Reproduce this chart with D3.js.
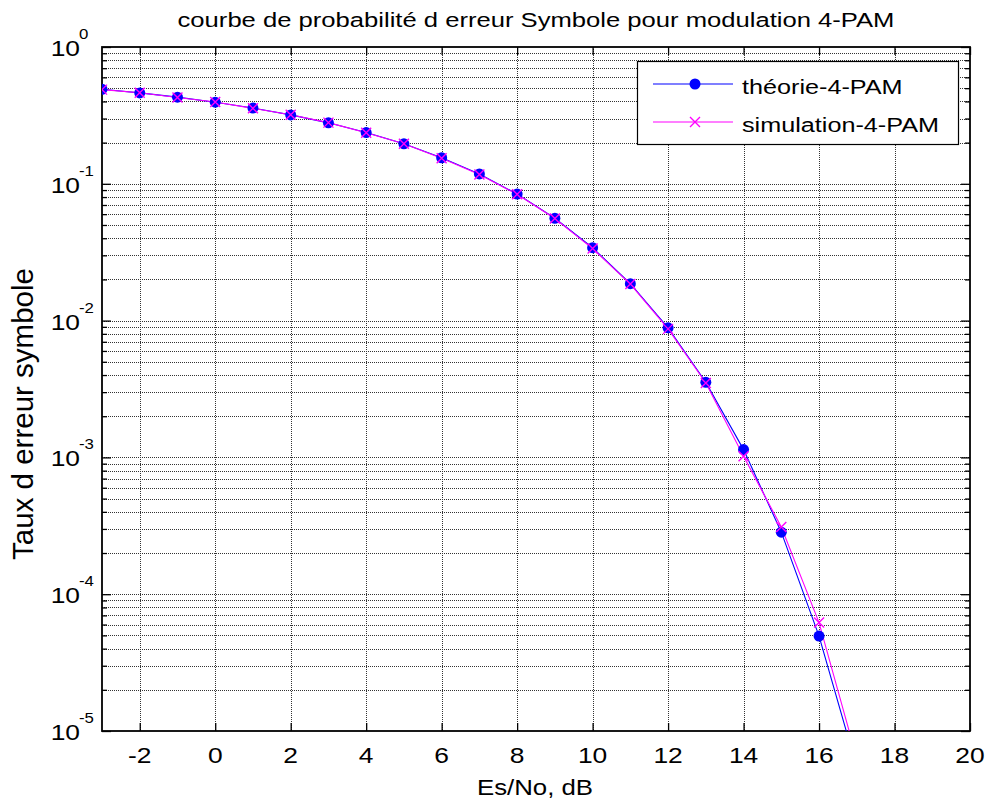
<!DOCTYPE html>
<html><head><meta charset="utf-8">
<script src="https://cdn.jsdelivr.net/npm/d3@7"></script>
<style>html,body{margin:0;padding:0;background:#fff;} svg{display:block;font-family:"Liberation Sans",Arial,sans-serif;}</style>
</head><body>
<script>
const esno = [-3,-2,-1,0,1,2,3,4,5,6,7,8,9,10,11,12,13,14,15,16,17];
const theory = [0.491,0.462,0.430,0.395,0.358,0.319,0.279,0.237,0.196,0.155,0.118,0.0841,0.0560,0.0341,0.0186,0.00885,0.00354,0.00114,0.000284,0.0000494,0.0000054];
const simulation = [0.488,0.463,0.427,0.396,0.356,0.320,0.280,0.236,0.196,0.154,0.117,0.0838,0.0557,0.0336,0.0185,0.0087,0.0035,0.00102,0.000310,0.0000620,0.0000063];
const xTicks = [-2,0,2,4,6,8,10,12,14,16,18,20];
const yExps = [0,-1,-2,-3,-4,-5];
const title = "courbe de probabilité d erreur Symbole pour modulation 4-PAM";
const xLabel = "Es/No, dB";
const yLabel = "Taux d erreur symbole";
const seriesNames = ["théorie-4-PAM","simulation-4-PAM"];
const colors = ["#0000ff","#ff00ff"];

const W=989,H=805;
const L=102,R=970,T=47,B=731;
const SX=1.2;
const svg=d3.select("body").append("svg").attr("width",W).attr("height",H);
const x=d3.scaleLinear().domain([-3,20]).range([L,R]);
const y=d3.scaleLog().domain([1e-5,1]).range([B,T]);

const yMinor=[];
for(let e=-5;e<0;e++){for(let m=2;m<=9;m++){yMinor.push(m*Math.pow(10,e));}}
const yMajor=yExps.map(e=>Math.pow(10,e));

const grid=svg.append("g");
grid.selectAll("line.gx").data(xTicks.filter(v=>v<20)).enter().append("line")
 .attr("x1",d=>Math.round(x(d))+0.5).attr("x2",d=>Math.round(x(d))+0.5).attr("y1",T).attr("y2",B)
 .attr("stroke","#333").attr("stroke-dasharray","1,1").attr("stroke-width",1);
grid.selectAll("line.gy").data(yMinor.concat(yMajor.filter(v=>v>1e-5&&v<1))).enter().append("line")
 .attr("x1",L).attr("x2",R).attr("y1",d=>Math.round(y(d))+0.5).attr("y2",d=>Math.round(y(d))+0.5)
 .attr("stroke","#333").attr("stroke-dasharray","1,1").attr("stroke-width",1);

const ax=svg.append("g");
ax.append("g").attr("transform",`translate(0,${B})`).call(d3.axisBottom(x).tickValues(xTicks).tickSize(-8).tickFormat("")).call(g=>g.select(".domain").remove());
ax.append("g").attr("transform",`translate(0,${T})`).call(d3.axisTop(x).tickValues(xTicks).tickSize(-8).tickFormat("")).call(g=>g.select(".domain").remove());
ax.append("g").attr("transform",`translate(${L},0)`).call(d3.axisLeft(y).tickValues(yMajor).tickSize(-9).tickFormat("")).call(g=>g.select(".domain").remove());
ax.append("g").attr("transform",`translate(${L},0)`).call(d3.axisLeft(y).tickValues(yMinor).tickSize(-5).tickFormat("")).call(g=>g.select(".domain").remove());
ax.append("g").attr("transform",`translate(${R},0)`).call(d3.axisRight(y).tickValues(yMajor).tickSize(-9).tickFormat("")).call(g=>g.select(".domain").remove());
ax.append("g").attr("transform",`translate(${R},0)`).call(d3.axisRight(y).tickValues(yMinor).tickSize(-5).tickFormat("")).call(g=>g.select(".domain").remove());
ax.selectAll(".tick line").attr("stroke","#000").attr("stroke-width",1.3);
svg.append("rect").attr("x",L).attr("y",T).attr("width",R-L).attr("height",B-T).attr("fill","none").attr("stroke","#000").attr("stroke-width",1.8);

function stext(px,py,str,size,anchor,sx){
  return svg.append("text").attr("transform",`translate(${px},${py}) scale(${sx},1)`)
   .attr("text-anchor",anchor).attr("font-size",size).attr("fill","#000").text(str);
}
xTicks.forEach(v=>stext(x(v),763,String(v),22,"middle",SX));
yExps.forEach(e=>{
  const yy=y(Math.pow(10,e));
  stext(80,yy+9,"10",22,"end",SX);
  stext(79,yy-8,String(e),14,"start",SX);
});
stext(536,27,title,20.5,"middle",1.25);
stext(535,795,xLabel,21.5,"middle",SX);
svg.append("text").attr("transform",`translate(33,414) rotate(-90)`).attr("text-anchor","middle")
 .attr("font-size",29.5).text(yLabel);

svg.append("clipPath").attr("id","clip").append("rect").attr("x",L).attr("y",T-6).attr("width",R-L).attr("height",B-T+6);
const plot=svg.append("g").attr("clip-path","url(#clip)");
const line=d3.line().x(d=>x(d[0])).y(d=>y(d[1]));
const tData=esno.map((v,i)=>[v,theory[i]]);
const sData=esno.map((v,i)=>[v,simulation[i]]);
plot.append("path").datum(tData).attr("d",line).attr("fill","none").attr("stroke",colors[0]).attr("stroke-width",1.1);
plot.append("path").datum(sData).attr("d",line).attr("fill","none").attr("stroke",colors[1]).attr("stroke-width",1.1);
plot.selectAll("circle.t").data(tData).enter().append("circle").attr("cx",d=>x(d[0])).attr("cy",d=>y(d[1])).attr("r",5.5).attr("fill",colors[0]);
const xs=5;
plot.selectAll("path.s").data(sData).enter().append("path")
 .attr("d",d=>{const cx=x(d[0]),cy=y(d[1]);return `M${cx-xs},${cy-xs}L${cx+xs},${cy+xs}M${cx-xs},${cy+xs}L${cx+xs},${cy-xs}`;})
 .attr("stroke",colors[1]).attr("stroke-width",1.4).attr("fill","none");

const lg=svg.append("g");
lg.append("rect").attr("x",637.5).attr("y",61.5).attr("width",321).attr("height",83).attr("fill","#fff").attr("stroke","#000").attr("stroke-width",1.2);
const rows=[84,122];
seriesNames.forEach((n,i)=>{
  lg.append("line").attr("x1",653).attr("x2",733).attr("y1",rows[i]).attr("y2",rows[i]).attr("stroke",colors[i]).attr("stroke-width",1.1);
  if(i===0){lg.append("circle").attr("cx",695).attr("cy",rows[i]).attr("r",5.5).attr("fill",colors[0]);}
  else{const cx=695,cy=rows[i];lg.append("path").attr("d",`M${cx-xs},${cy-xs}L${cx+xs},${cy+xs}M${cx-xs},${cy+xs}L${cx+xs},${cy-xs}`).attr("stroke",colors[1]).attr("stroke-width",1.4);}
  svg.append("text").attr("transform",`translate(742,${rows[i]+10}) scale(${SX},1)`).attr("font-size",21).text(n);
});
</script>
</body></html>
